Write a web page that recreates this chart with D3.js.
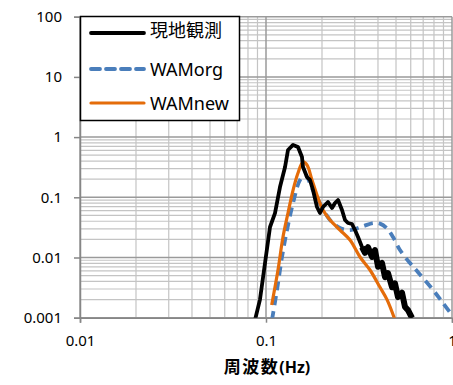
<!DOCTYPE html>
<html>
<head>
<meta charset="utf-8">
<title>周波数スペクトル</title>
<script src="https://d3js.org/d3.v7.min.js"></script>
<style>
body { margin: 0; background: #fff; }
text { font-family: "Noto Sans", "Noto Sans CJK JP", sans-serif; }
</style>
</head>
<body>
<div id="container"></div>
<script>

//------------------------------DATA-------------------------------//
var seriesNames = ["現地観測", "WAMorg", "WAMnew"];

var obsFreq = [0.0873, 0.0928, 0.0988, 0.1051, 0.1118, 0.1189, 0.1266, 0.1313, 0.1398, 0.1486,
    0.1561, 0.1581, 0.1661, 0.1724, 0.1789, 0.1880, 0.1951, 0.2025, 0.2154, 0.2264,
    0.2350, 0.2439, 0.2562, 0.2660, 0.2760, 0.2900, 0.3010, 0.3124, 0.3282, 0.3406,
    0.3535, 0.3715, 0.3855, 0.4002, 0.4205, 0.4365, 0.4529, 0.4760, 0.4937, 0.5124,
    0.5384, 0.5588, 0.5800, 0.6095];
var obsVal = [0.00092, 0.0020, 0.0081, 0.0321, 0.0548, 0.148, 0.319, 0.611, 0.740, 0.685,
    0.467, 0.319, 0.217, 0.194, 0.132, 0.069, 0.0548, 0.069, 0.0835, 0.0664,
    0.0804, 0.0902, 0.0615, 0.042, 0.0374, 0.036, 0.0286, 0.0219, 0.0149, 0.0119,
    0.0149, 0.0102, 0.0133, 0.0070, 0.0081, 0.0047, 0.0055, 0.0032, 0.0037, 0.0022,
    0.0026, 0.00151, 0.00134, 0.00099];

var orgFreq = [0.1077, 0.1146, 0.1219, 0.1297, 0.1398, 0.1523, 0.1621, 0.1789, 0.2000, 0.2209,
    0.2500, 0.2829, 0.3322, 0.3760, 0.4102, 0.4473, 0.4818, 0.5252, 0.5945, 0.6565,
    0.7902, 0.8946, 1.0];
var orgVal = [0.00092, 0.0029, 0.0102, 0.0286, 0.0804, 0.194, 0.235, 0.132, 0.0690, 0.0420,
    0.0309, 0.0286, 0.0330, 0.0374, 0.0365, 0.0305, 0.0219, 0.0133, 0.0081, 0.0057,
    0.0029, 0.00175, 0.00111];

var newFreq = [0.1073, 0.1160, 0.1234, 0.1313, 0.1398, 0.1486, 0.1581, 0.1661, 0.1767, 0.1880,
    0.2025, 0.2209, 0.2500, 0.2829, 0.3202, 0.3624, 0.4102, 0.4473, 0.4937];
var newVal = [0.00163, 0.0062, 0.0219, 0.0548, 0.132, 0.253, 0.386, 0.344, 0.194, 0.109,
    0.0615, 0.0420, 0.0286, 0.0195, 0.0102, 0.0062, 0.0032, 0.0020, 0.00092];

var xTicks = [0.01, 0.1, 1];
var yTicks = [0.001, 0.01, 0.1, 1, 10, 100];
var xTickLabels = ["0.01", "0.1", "1"];
var yTickLabels = ["0.001", "0.01", "0.1", "1", "10", "100"];

// the observed spectrum gets noisy (and looks bolder) above this frequency
var noisyFrom = 0.3282;

//-----------------------------SVG-------------------------------//
var width = 453, height = 385;
var plot = { left: 80, right: 452, top: 16.7, bottom: 317.7 };

var svg = d3.select("div#container").append("svg")
    .attr("width", width)
    .attr("height", height);

//----------------------------SCALES-----------------------------//
var xScale = d3.scaleLog().domain([0.01, 1]).range([plot.left, plot.right]);
var yScale = d3.scaleLog().domain([0.001, 100]).range([plot.bottom, plot.top]);

//-----------------------------GRID------------------------------//
var minorX = [], minorY = [];
[0.01, 0.1].forEach(function(d) { for (var i = 2; i < 10; i++) minorX.push(d * i); });
[0.001, 0.01, 0.1, 1, 10].forEach(function(d) { for (var i = 2; i < 10; i++) minorY.push(d * i); });

var grid = svg.append("g");
grid.selectAll(".mx").data(minorX).enter().append("line")
    .attr("x1", d => xScale(d)).attr("x2", d => xScale(d))
    .attr("y1", plot.top).attr("y2", plot.bottom)
    .attr("stroke", "#c4c4c4").attr("stroke-width", 1.2);
grid.selectAll(".my").data(minorY).enter().append("line")
    .attr("x1", plot.left).attr("x2", plot.right)
    .attr("y1", d => yScale(d)).attr("y2", d => yScale(d))
    .attr("stroke", "#c4c4c4").attr("stroke-width", 1.2);
grid.selectAll(".Mx").data(xTicks).enter().append("line")
    .attr("x1", d => xScale(d)).attr("x2", d => xScale(d))
    .attr("y1", plot.top).attr("y2", plot.bottom)
    .attr("stroke", "#9a9a9a").attr("stroke-width", 1.5);
grid.selectAll(".My").data(yTicks).enter().append("line")
    .attr("x1", plot.left).attr("x2", plot.right)
    .attr("y1", d => yScale(d)).attr("y2", d => yScale(d))
    .attr("stroke", "#9a9a9a").attr("stroke-width", 1.5);

//-----------------------------AXES------------------------------//
var yaxis = d3.axisLeft(yScale)
    .tickValues(yTicks)
    .tickSize(6)
    .tickFormat((d, i) => yTickLabels[i]);
var xaxis = d3.axisBottom(xScale)
    .tickValues(xTicks)
    .tickSize(5)
    .tickFormat((d, i) => xTickLabels[i]);

var gy = svg.append("g")
    .attr("transform", "translate(" + plot.left + ",0)")
    .call(yaxis);
var gx = svg.append("g")
    .attr("transform", "translate(0," + plot.bottom + ")")
    .call(xaxis);

[gx, gy].forEach(function(g) {
    g.select(".domain").attr("stroke", "#868686").attr("stroke-width", 1.5);
    g.selectAll(".tick line").attr("stroke", "#868686").attr("stroke-width", 1.5);
    g.selectAll(".tick text")
        .attr("fill", "#000")
        .style("font-size", "15px")
        .style("font-family", "'Noto Sans', sans-serif");
});
gy.selectAll(".tick text").attr("x", -18);
gx.selectAll(".tick text").attr("y", 18);

//----------------------------LINES------------------------------//
svg.append("clipPath").attr("id", "plotclip")
    .append("rect")
    .attr("x", plot.left).attr("y", plot.top)
    .attr("width", plot.right - plot.left)
    .attr("height", plot.bottom - plot.top);

function makeLine(curve) {
    return d3.line()
        .x(d => xScale(d[0]))
        .y(d => yScale(d[1]))
        .curve(curve);
}

var lines = svg.append("g").attr("clip-path", "url(#plotclip)");

lines.append("path")
    .datum(orgFreq.map((f, i) => [f, orgVal[i]]))
    .attr("d", makeLine(d3.curveCatmullRom))
    .attr("fill", "none")
    .attr("stroke", "#4a7ebb")
    .attr("stroke-width", 3.8)
    .attr("stroke-dasharray", "9,6");

lines.append("path")
    .datum(newFreq.map((f, i) => [f, newVal[i]]))
    .attr("d", makeLine(d3.curveCatmullRom))
    .attr("fill", "none")
    .attr("stroke", "#e46c0a")
    .attr("stroke-width", 3.2);

var obs = obsFreq.map((f, i) => [f, obsVal[i]]);
lines.append("path")
    .datum(obs)
    .attr("d", makeLine(d3.curveLinear))
    .attr("fill", "none")
    .attr("stroke", "#000")
    .attr("stroke-width", 3.8)
    .attr("stroke-linejoin", "round");

lines.append("path")
    .datum(obs.filter(d => d[0] >= noisyFrom))
    .attr("d", makeLine(d3.curveLinear))
    .attr("fill", "none")
    .attr("stroke", "#000")
    .attr("stroke-width", 6)
    .attr("stroke-linejoin", "round");

//----------------------------LEGEND-----------------------------//
var legend = svg.append("g");
legend.append("rect")
    .attr("x", 80.5).attr("y", 16.5)
    .attr("width", 159).attr("height", 104)
    .attr("fill", "#fff")
    .attr("stroke", "#000")
    .attr("stroke-width", 1.5);

var legendStyle = [
    { color: "#000", dash: null, width: 3.8, y: 33 },
    { color: "#4a7ebb", dash: "9,6", width: 3.8, y: 69 },
    { color: "#e46c0a", dash: null, width: 3.2, y: 103 }
];
seriesNames.forEach(function(name, i) {
    var s = legendStyle[i];
    legend.append("line")
        .attr("x1", 91).attr("x2", 144)
        .attr("y1", s.y).attr("y2", s.y)
        .attr("stroke", s.color)
        .attr("stroke-width", s.width)
        .attr("stroke-linecap", "round")
        .attr("stroke-dasharray", s.dash);
    legend.append("text")
        .attr("x", 150).attr("y", s.y + (i === 0 ? 4 : 6.5))
        .style("font-size", "18px")
        .style("font-family", i === 0 ? "'Noto Sans CJK JP', sans-serif" : "'Noto Sans', sans-serif")
        .text(name);
});

//---------------------------X TITLE-----------------------------//
var title = svg.append("text")
    .attr("x", 267).attr("y", 373)
    .attr("text-anchor", "middle")
    .style("font-weight", "bold");
title.append("tspan")
    .style("font-size", "17px")
    .style("letter-spacing", "1.5px")
    .style("font-family", "'Noto Sans CJK JP', sans-serif")
    .text("周波数");
title.append("tspan")
    .style("font-size", "16px")
    .style("font-family", "'Noto Sans', sans-serif")
    .text("(Hz)");

</script>
</body>
</html>
